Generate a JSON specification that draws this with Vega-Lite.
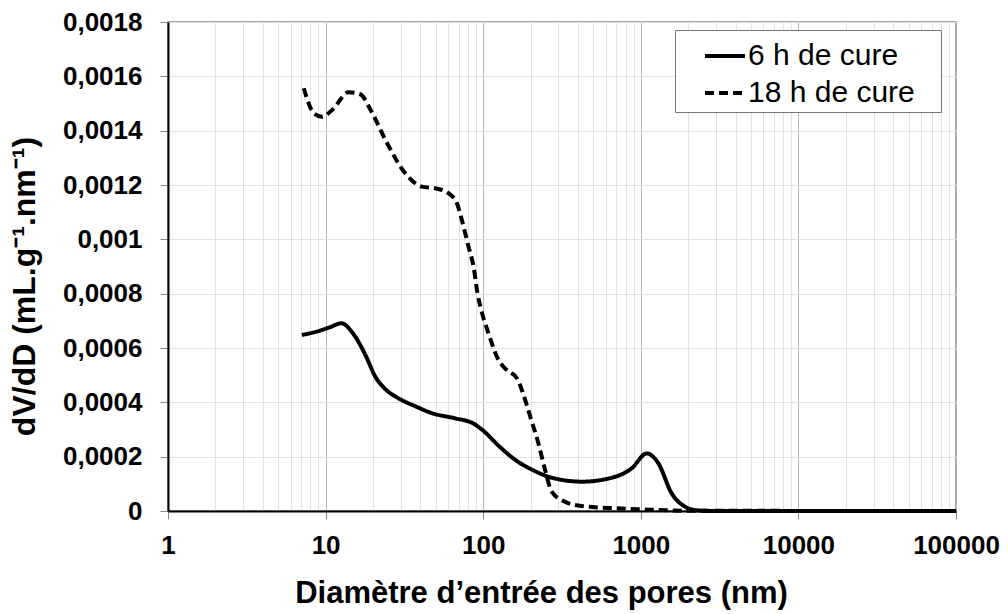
{
  "$schema": "https://vega.github.io/schema/vega-lite/v6.json",
  "width": 788,
  "height": 489,
  "autosize": {"type": "none"},
  "padding": {"left": 168, "top": 22, "right": 52, "bottom": 103},
  "config": {
    "view": {"stroke": "#888888", "strokeWidth": 1.5},
    "font": "Liberation Sans",
    "axis": {
      "labelFont": "Liberation Sans",
      "titleFont": "Liberation Sans",
      "labelColor": "#000000",
      "titleColor": "#000000",
      "domainColor": "#000000",
      "domainWidth": 2,
      "tickColor": "#888888",
      "tickWidth": 1,
      "tickSize": 8
    }
  },
  "data": {
    "values": [
      {"d": 7.07, "v": 0.000648, "serie": "6 h de cure"},
      {"d": 8.73, "v": 0.000660, "serie": "6 h de cure"},
      {"d": 10.6, "v": 0.000676, "serie": "6 h de cure"},
      {"d": 12.6, "v": 0.000691, "serie": "6 h de cure"},
      {"d": 14.9, "v": 0.000654, "serie": "6 h de cure"},
      {"d": 17.7, "v": 0.000580, "serie": "6 h de cure"},
      {"d": 20.7, "v": 0.000494, "serie": "6 h de cure"},
      {"d": 24.3, "v": 0.000445, "serie": "6 h de cure"},
      {"d": 28.0, "v": 0.000420, "serie": "6 h de cure"},
      {"d": 37.6, "v": 0.000384, "serie": "6 h de cure"},
      {"d": 47.3, "v": 0.000360, "serie": "6 h de cure"},
      {"d": 66.5, "v": 0.000341, "serie": "6 h de cure"},
      {"d": 86.0, "v": 0.000323, "serie": "6 h de cure"},
      {"d": 99.0, "v": 0.000298, "serie": "6 h de cure"},
      {"d": 127, "v": 0.000237, "serie": "6 h de cure"},
      {"d": 160, "v": 0.000188, "serie": "6 h de cure"},
      {"d": 206, "v": 0.000151, "serie": "6 h de cure"},
      {"d": 260, "v": 0.000126, "serie": "6 h de cure"},
      {"d": 423, "v": 0.000108, "serie": "6 h de cure"},
      {"d": 687, "v": 0.000126, "serie": "6 h de cure"},
      {"d": 875, "v": 0.000157, "serie": "6 h de cure"},
      {"d": 1091, "v": 0.000212, "serie": "6 h de cure"},
      {"d": 1291, "v": 0.000176, "serie": "6 h de cure"},
      {"d": 1570, "v": 0.000065, "serie": "6 h de cure"},
      {"d": 1906, "v": 0.000016, "serie": "6 h de cure"},
      {"d": 2300, "v": 0.000002, "serie": "6 h de cure"},
      {"d": 3000, "v": 0, "serie": "6 h de cure"},
      {"d": 100000, "v": 0, "serie": "6 h de cure"},
      {"d": 7.27, "v": 0.001556, "serie": "18 h de cure"},
      {"d": 8.42, "v": 0.001464, "serie": "18 h de cure"},
      {"d": 9.5, "v": 0.001451, "serie": "18 h de cure"},
      {"d": 11.0, "v": 0.001476, "serie": "18 h de cure"},
      {"d": 14.0, "v": 0.001541, "serie": "18 h de cure"},
      {"d": 16.6, "v": 0.001534, "serie": "18 h de cure"},
      {"d": 19.3, "v": 0.001476, "serie": "18 h de cure"},
      {"d": 24.6, "v": 0.001353, "serie": "18 h de cure"},
      {"d": 32.0, "v": 0.001243, "serie": "18 h de cure"},
      {"d": 40.9, "v": 0.001194, "serie": "18 h de cure"},
      {"d": 49.7, "v": 0.001188, "serie": "18 h de cure"},
      {"d": 60.4, "v": 0.001169, "serie": "18 h de cure"},
      {"d": 68.1, "v": 0.001133, "serie": "18 h de cure"},
      {"d": 73.2, "v": 0.001071, "serie": "18 h de cure"},
      {"d": 80.7, "v": 0.000973, "serie": "18 h de cure"},
      {"d": 86.9, "v": 0.000899, "serie": "18 h de cure"},
      {"d": 92.0, "v": 0.000801, "serie": "18 h de cure"},
      {"d": 97.2, "v": 0.000740, "serie": "18 h de cure"},
      {"d": 108, "v": 0.000654, "serie": "18 h de cure"},
      {"d": 125, "v": 0.000556, "serie": "18 h de cure"},
      {"d": 141, "v": 0.000519, "serie": "18 h de cure"},
      {"d": 164, "v": 0.000488, "serie": "18 h de cure"},
      {"d": 176, "v": 0.000445, "serie": "18 h de cure"},
      {"d": 199, "v": 0.000347, "serie": "18 h de cure"},
      {"d": 224, "v": 0.000249, "serie": "18 h de cure"},
      {"d": 247, "v": 0.000151, "serie": "18 h de cure"},
      {"d": 272, "v": 0.000071, "serie": "18 h de cure"},
      {"d": 331, "v": 0.000034, "serie": "18 h de cure"},
      {"d": 423, "v": 0.000018, "serie": "18 h de cure"},
      {"d": 687, "v": 0.000010, "serie": "18 h de cure"},
      {"d": 1150, "v": 0.000005, "serie": "18 h de cure"},
      {"d": 2000, "v": 0.000001, "serie": "18 h de cure"},
      {"d": 100000, "v": 0, "serie": "18 h de cure"}
    ]
  },
  "mark": {"type": "line", "color": "#000000", "strokeWidth": 4, "interpolate": "monotone"},
  "encoding": {
    "x": {
      "field": "d",
      "type": "quantitative",
      "scale": {"type": "log", "domain": [1, 100000]},
      "axis": {
        "title": "Diamètre d’entrée des pores (nm)",
        "titleFontSize": 31,
        "titleFontWeight": "bold",
        "titleX": 373,
        "titleY": 91,
        "titleAlign": "center",
        "titleBaseline": "alphabetic",
        "values": [1,2,3,4,5,6,7,8,9,10,20,30,40,50,60,70,80,90,100,200,300,400,500,600,700,800,900,1000,2000,3000,4000,5000,6000,7000,8000,9000,10000,20000,30000,40000,50000,60000,70000,80000,90000,100000],
        "labelExpr": "indexof([1,10,100,1000,10000,100000], datum.value) >= 0 ? toString(datum.value) : ''",
        "labelFontSize": 26,
        "labelFontWeight": "bold",
        "labelBaseline": "alphabetic",
        "labelPadding": 34,
        "labelFlush": false,
        "labelOverlap": false,
        "grid": true,
        "gridColor": {"condition": {"test": "indexof([1,10,100,1000,10000,100000], datum.value) >= 0", "value": "#b4b4b4"}, "value": "#e2e2e2"},
        "gridWidth": 1,
        "tickOpacity": {"condition": {"test": "indexof([1,10,100,1000,10000,100000], datum.value) >= 0", "value": 1}, "value": 0}
      }
    },
    "y": {
      "field": "v",
      "type": "quantitative",
      "scale": {"domain": [0, 0.0018], "nice": false},
      "axis": {
        "title": "dV/dD (mL.g⁻¹.nm⁻¹)",
        "titleFontSize": 32,
        "titleFontWeight": "bold",
        "titleX": -144,
        "titleY": 264,
        "titleAlign": "center",
        "titleBaseline": "middle",
        "titleAngle": -90,
        "values": [0, 0.0002, 0.0004, 0.0006, 0.0008, 0.001, 0.0012, 0.0014, 0.0016, 0.0018],
        "labelExpr": "replace(toString(datum.value), '.', ',')",
        "labelFontSize": 26,
        "labelFontWeight": "bold",
        "labelPadding": 18,
        "labelFlush": false,
        "labelOverlap": false,
        "grid": true,
        "gridColor": "#e2e2e2",
        "gridWidth": 1
      }
    },
    "strokeDash": {
      "field": "serie",
      "type": "nominal",
      "scale": {"domain": ["6 h de cure", "18 h de cure"], "range": [[1, 0], [9, 5]]},
      "legend": {
        "title": null,
        "orient": "none",
        "legendX": 507,
        "legendY": 8,
        "labelFontSize": 30,
        "labelFont": "Liberation Sans",
        "labelColor": "#000000",
        "labelExpr": "datum.label + '\u2800'",
        "labelOffset": 1,
        "labelLimit": 400,
        "symbolType": "stroke",
        "symbolSize": 1600,
        "symbolStrokeWidth": 4,
        "symbolStrokeColor": "#000000",
        "symbolOffset": 24,
        "strokeColor": "#777777",
        "fillColor": "#ffffff",
        "padding": 4,
        "rowPadding": 0
      }
    }
  }
}
